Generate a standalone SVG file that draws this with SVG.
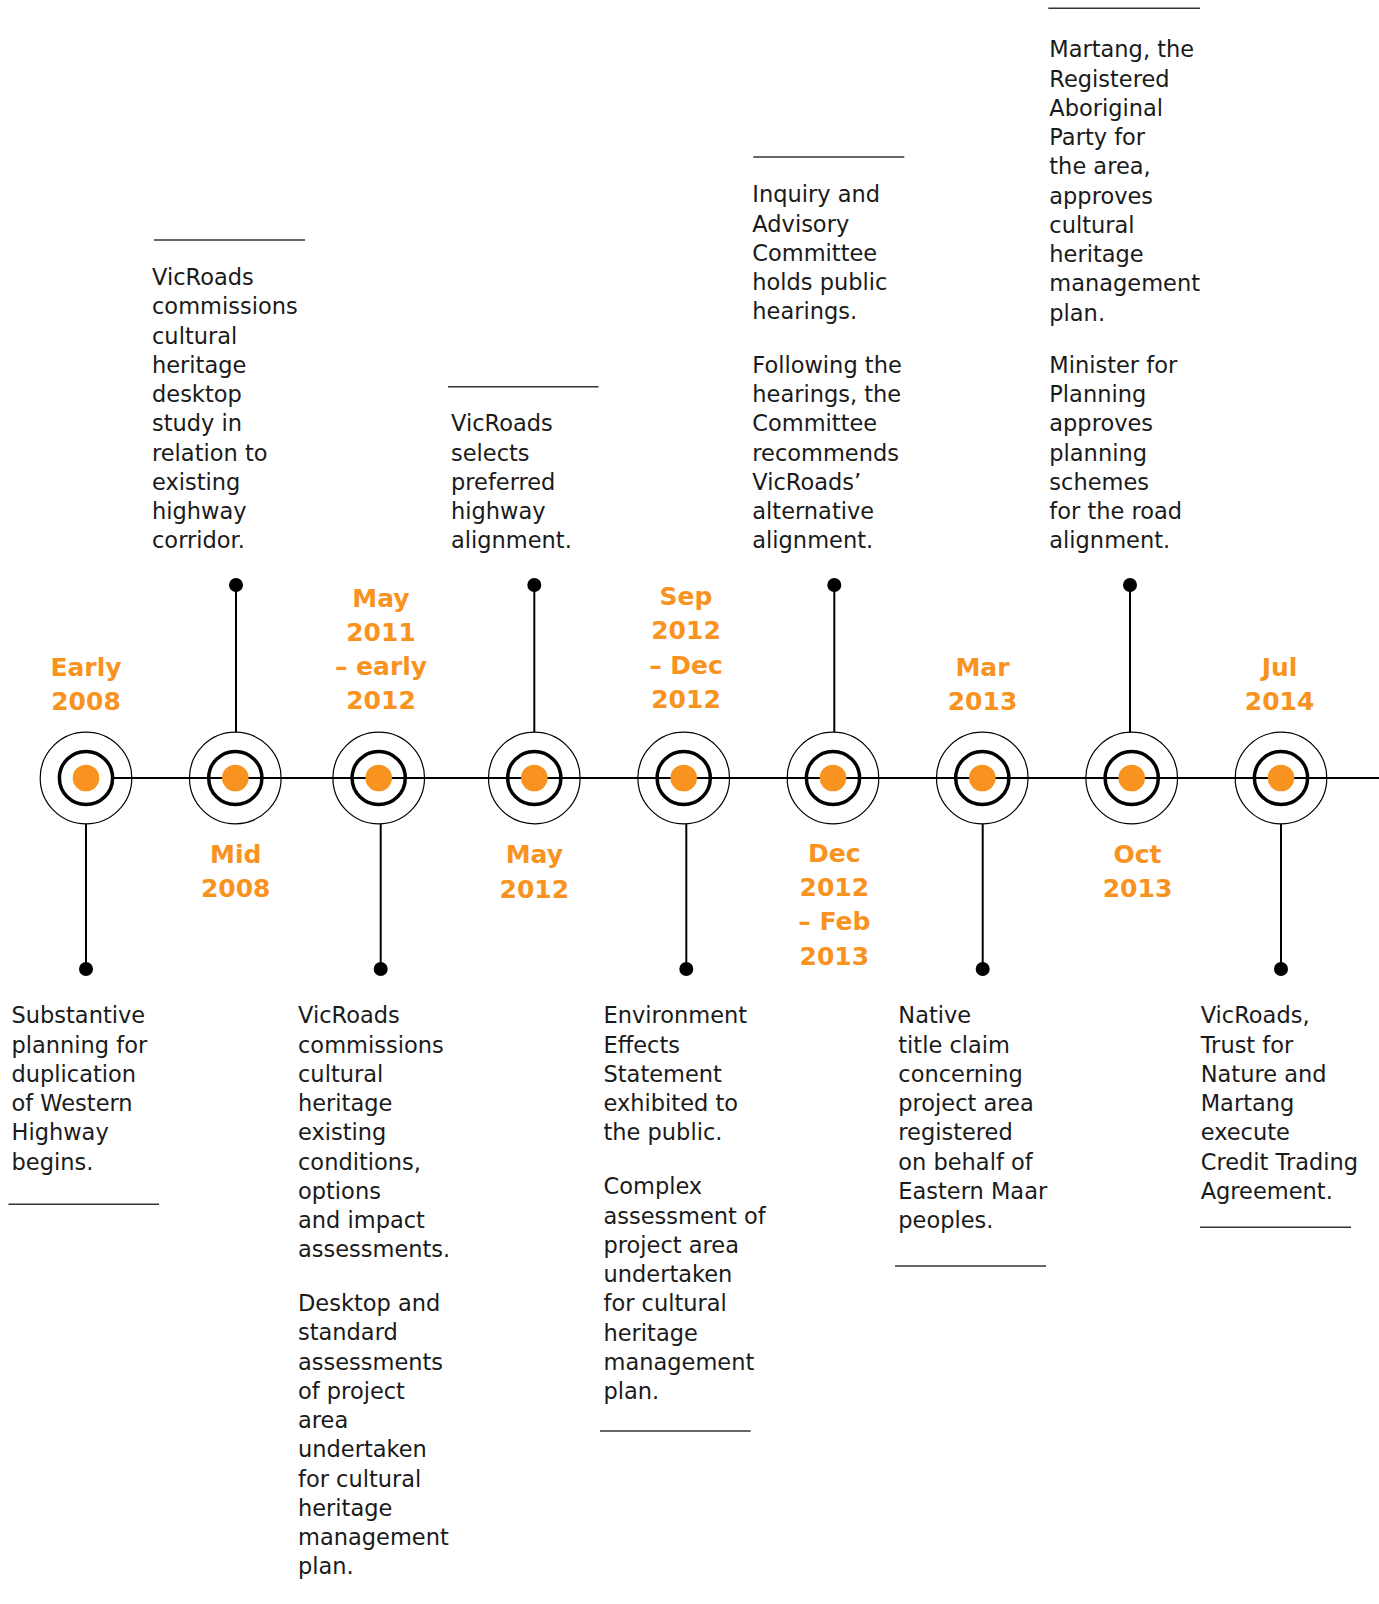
<svg xmlns="http://www.w3.org/2000/svg" width="1379" height="1604" viewBox="0 0 1379 1604">
<style>
.outer{fill:none;stroke:#000;stroke-width:1.2}
.ring{fill:none;stroke:#000;stroke-width:3.5}
.core{fill:#F7931E}
.conn{stroke:#000;stroke-width:2;fill:none}
.end{fill:#000}
.rule{stroke:#333;stroke-width:1.5}
.lbl{font-family:"DejaVu Sans",sans-serif;font-weight:bold;font-size:25px;fill:#F7931E;text-anchor:middle}
.txt{font-family:"DejaVu Sans",sans-serif;font-size:22.5px;fill:#1a1a1a}
</style>
<rect width="1379" height="1604" fill="#fff"/>
<g id="connectors">
<line class="conn" x1="113" y1="778" x2="1379" y2="778"/>
<line class="conn" x1="86" y1="824" x2="86" y2="969"/><circle class="end" cx="86" cy="969" r="7"/>
<line class="conn" x1="236" y1="585" x2="236" y2="732"/><circle class="end" cx="236" cy="585" r="7"/>
<line class="conn" x1="380.7" y1="824" x2="380.7" y2="969"/><circle class="end" cx="380.7" cy="969" r="7"/>
<line class="conn" x1="534.3" y1="585" x2="534.3" y2="732"/><circle class="end" cx="534.3" cy="585" r="7"/>
<line class="conn" x1="686.3" y1="824" x2="686.3" y2="969"/><circle class="end" cx="686.3" cy="969" r="7"/>
<line class="conn" x1="834.3" y1="585" x2="834.3" y2="732"/><circle class="end" cx="834.3" cy="585" r="7"/>
<line class="conn" x1="982.7" y1="824" x2="982.7" y2="969"/><circle class="end" cx="982.7" cy="969" r="7"/>
<line class="conn" x1="1130" y1="585" x2="1130" y2="732"/><circle class="end" cx="1130" cy="585" r="7"/>
<line class="conn" x1="1281" y1="824" x2="1281" y2="969"/><circle class="end" cx="1281" cy="969" r="7"/>
</g>
<g id="node-early-2008">
<circle class="outer" cx="86" cy="778" r="45.8"/><circle class="ring" cx="86" cy="778" r="26.6"/><circle class="core" cx="86" cy="778" r="13.3"/>
<text class="lbl"><tspan x="86" y="676">Early</tspan><tspan x="86" y="710">2008</tspan></text>
<text class="txt"><tspan x="11.5" y="1023.3">Substantive</tspan><tspan x="11.5" dy="29.25">planning for</tspan><tspan x="11.5" dy="29.25">duplication</tspan><tspan x="11.5" dy="29.25">of Western</tspan><tspan x="11.5" dy="29.25">Highway</tspan><tspan x="11.5" dy="29.25">begins.</tspan></text>
<line class="rule" x1="8.5" y1="1204.3" x2="159" y2="1204.3"/>
</g>
<g id="node-mid-2008">
<circle class="outer" cx="235.3" cy="778" r="45.8"/><circle class="ring" cx="235.3" cy="778" r="26.6"/><circle class="core" cx="235.3" cy="778" r="13.3"/>
<text class="lbl"><tspan x="235.7" y="862.5">Mid</tspan><tspan x="235.7" y="896.7">2008</tspan></text>
<line class="rule" x1="154" y1="240" x2="305" y2="240"/>
<text class="txt"><tspan x="152" y="285">VicRoads</tspan><tspan x="152" dy="29.25">commissions</tspan><tspan x="152" dy="29.25">cultural</tspan><tspan x="152" dy="29.25">heritage</tspan><tspan x="152" dy="29.25">desktop</tspan><tspan x="152" dy="29.25">study in</tspan><tspan x="152" dy="29.25">relation to</tspan><tspan x="152" dy="29.25">existing</tspan><tspan x="152" dy="29.25">highway</tspan><tspan x="152" dy="29.25">corridor.</tspan></text>
</g>
<g id="node-may-2011">
<circle class="outer" cx="378.7" cy="778" r="45.8"/><circle class="ring" cx="378.7" cy="778" r="26.6"/><circle class="core" cx="378.7" cy="778" r="13.3"/>
<text class="lbl"><tspan x="381" y="606.5">May</tspan><tspan x="381" y="640.5">2011</tspan><tspan x="381" y="674.5">– early</tspan><tspan x="381" y="708.5">2012</tspan></text>
<text class="txt"><tspan x="298" y="1023.3">VicRoads</tspan><tspan x="298" dy="29.25">commissions</tspan><tspan x="298" dy="29.25">cultural</tspan><tspan x="298" dy="29.25">heritage</tspan><tspan x="298" dy="29.25">existing</tspan><tspan x="298" dy="29.25">conditions,</tspan><tspan x="298" dy="29.25">options</tspan><tspan x="298" dy="29.25">and impact</tspan><tspan x="298" dy="29.25">assessments.</tspan></text>
<text class="txt"><tspan x="298" y="1311">Desktop and</tspan><tspan x="298" dy="29.25">standard</tspan><tspan x="298" dy="29.25">assessments</tspan><tspan x="298" dy="29.25">of project</tspan><tspan x="298" dy="29.25">area</tspan><tspan x="298" dy="29.25">undertaken</tspan><tspan x="298" dy="29.25">for cultural</tspan><tspan x="298" dy="29.25">heritage</tspan><tspan x="298" dy="29.25">management</tspan><tspan x="298" dy="29.25">plan.</tspan></text>
</g>
<g id="node-may-2012">
<circle class="outer" cx="534.3" cy="778" r="45.8"/><circle class="ring" cx="534.3" cy="778" r="26.6"/><circle class="core" cx="534.3" cy="778" r="13.3"/>
<text class="lbl"><tspan x="534.3" y="863">May</tspan><tspan x="534.3" y="897.5">2012</tspan></text>
<line class="rule" x1="448" y1="386.7" x2="598.5" y2="386.7"/>
<text class="txt"><tspan x="451" y="431.3">VicRoads</tspan><tspan x="451" dy="29.25">selects</tspan><tspan x="451" dy="29.25">preferred</tspan><tspan x="451" dy="29.25">highway</tspan><tspan x="451" dy="29.25">alignment.</tspan></text>
</g>
<g id="node-sep-2012">
<circle class="outer" cx="683.7" cy="778" r="45.8"/><circle class="ring" cx="683.7" cy="778" r="26.6"/><circle class="core" cx="683.7" cy="778" r="13.3"/>
<text class="lbl"><tspan x="686" y="605">Sep</tspan><tspan x="686" y="639.3">2012</tspan><tspan x="686" y="674">– Dec</tspan><tspan x="686" y="708.3">2012</tspan></text>
<text class="txt"><tspan x="603.5" y="1023.3">Environment</tspan><tspan x="603.5" dy="29.25">Effects</tspan><tspan x="603.5" dy="29.25">Statement</tspan><tspan x="603.5" dy="29.25">exhibited to</tspan><tspan x="603.5" dy="29.25">the public.</tspan></text>
<text class="txt"><tspan x="603.5" y="1194.3">Complex</tspan><tspan x="603.5" dy="29.25">assessment of</tspan><tspan x="603.5" dy="29.25">project area</tspan><tspan x="603.5" dy="29.25">undertaken</tspan><tspan x="603.5" dy="29.25">for cultural</tspan><tspan x="603.5" dy="29.25">heritage</tspan><tspan x="603.5" dy="29.25">management</tspan><tspan x="603.5" dy="29.25">plan.</tspan></text>
<line class="rule" x1="600" y1="1431" x2="750.7" y2="1431"/>
</g>
<g id="node-dec-2012">
<circle class="outer" cx="833" cy="778" r="45.8"/><circle class="ring" cx="833" cy="778" r="26.6"/><circle class="core" cx="833" cy="778" r="13.3"/>
<text class="lbl"><tspan x="834.3" y="861.7">Dec</tspan><tspan x="834.3" y="895.5">2012</tspan><tspan x="834.3" y="930">– Feb</tspan><tspan x="834.3" y="964.5">2013</tspan></text>
<line class="rule" x1="753.3" y1="157" x2="904.3" y2="157"/>
<text class="txt"><tspan x="752.3" y="202.3">Inquiry and</tspan><tspan x="752.3" dy="29.25">Advisory</tspan><tspan x="752.3" dy="29.25">Committee</tspan><tspan x="752.3" dy="29.25">holds public</tspan><tspan x="752.3" dy="29.25">hearings.</tspan></text>
<text class="txt"><tspan x="752.3" y="372.8">Following the</tspan><tspan x="752.3" dy="29.25">hearings, the</tspan><tspan x="752.3" dy="29.25">Committee</tspan><tspan x="752.3" dy="29.25">recommends</tspan><tspan x="752.3" dy="29.25">VicRoads’</tspan><tspan x="752.3" dy="29.25">alternative</tspan><tspan x="752.3" dy="29.25">alignment.</tspan></text>
</g>
<g id="node-mar-2013">
<circle class="outer" cx="982.3" cy="778" r="45.8"/><circle class="ring" cx="982.3" cy="778" r="26.6"/><circle class="core" cx="982.3" cy="778" r="13.3"/>
<text class="lbl"><tspan x="982.5" y="676">Mar</tspan><tspan x="982.5" y="710">2013</tspan></text>
<text class="txt"><tspan x="898.3" y="1023.3">Native</tspan><tspan x="898.3" dy="29.25">title claim</tspan><tspan x="898.3" dy="29.25">concerning</tspan><tspan x="898.3" dy="29.25">project area</tspan><tspan x="898.3" dy="29.25">registered</tspan><tspan x="898.3" dy="29.25">on behalf of</tspan><tspan x="898.3" dy="29.25">Eastern Maar</tspan><tspan x="898.3" dy="29.25">peoples.</tspan></text>
<line class="rule" x1="895" y1="1266" x2="1046" y2="1266"/>
</g>
<g id="node-oct-2013">
<circle class="outer" cx="1131.7" cy="778" r="45.8"/><circle class="ring" cx="1131.7" cy="778" r="26.6"/><circle class="core" cx="1131.7" cy="778" r="13.3"/>
<text class="lbl"><tspan x="1137.5" y="862.7">Oct</tspan><tspan x="1137.5" y="897">2013</tspan></text>
<line class="rule" x1="1048.3" y1="8.3" x2="1200" y2="8.3"/>
<text class="txt"><tspan x="1049.3" y="57.3">Martang, the</tspan><tspan x="1049.3" dy="29.25">Registered</tspan><tspan x="1049.3" dy="29.25">Aboriginal</tspan><tspan x="1049.3" dy="29.25">Party for</tspan><tspan x="1049.3" dy="29.25">the area,</tspan><tspan x="1049.3" dy="29.25">approves</tspan><tspan x="1049.3" dy="29.25">cultural</tspan><tspan x="1049.3" dy="29.25">heritage</tspan><tspan x="1049.3" dy="29.25">management</tspan><tspan x="1049.3" dy="29.25">plan.</tspan></text>
<text class="txt"><tspan x="1049.3" y="372.8">Minister for</tspan><tspan x="1049.3" dy="29.25">Planning</tspan><tspan x="1049.3" dy="29.25">approves</tspan><tspan x="1049.3" dy="29.25">planning</tspan><tspan x="1049.3" dy="29.25">schemes</tspan><tspan x="1049.3" dy="29.25">for the road</tspan><tspan x="1049.3" dy="29.25">alignment.</tspan></text>
</g>
<g id="node-jul-2014">
<circle class="outer" cx="1281" cy="778" r="45.8"/><circle class="ring" cx="1281" cy="778" r="26.6"/><circle class="core" cx="1281" cy="778" r="13.3"/>
<text class="lbl"><tspan x="1279.6" y="676">Jul</tspan><tspan x="1279.6" y="710">2014</tspan></text>
<text class="txt"><tspan x="1200.7" y="1023.3">VicRoads,</tspan><tspan x="1200.7" dy="29.25">Trust for</tspan><tspan x="1200.7" dy="29.25">Nature and</tspan><tspan x="1200.7" dy="29.25">Martang</tspan><tspan x="1200.7" dy="29.25">execute</tspan><tspan x="1200.7" dy="29.25">Credit Trading</tspan><tspan x="1200.7" dy="29.25">Agreement.</tspan></text>
<line class="rule" x1="1200" y1="1227.3" x2="1351" y2="1227.3"/>
</g>
</svg>
